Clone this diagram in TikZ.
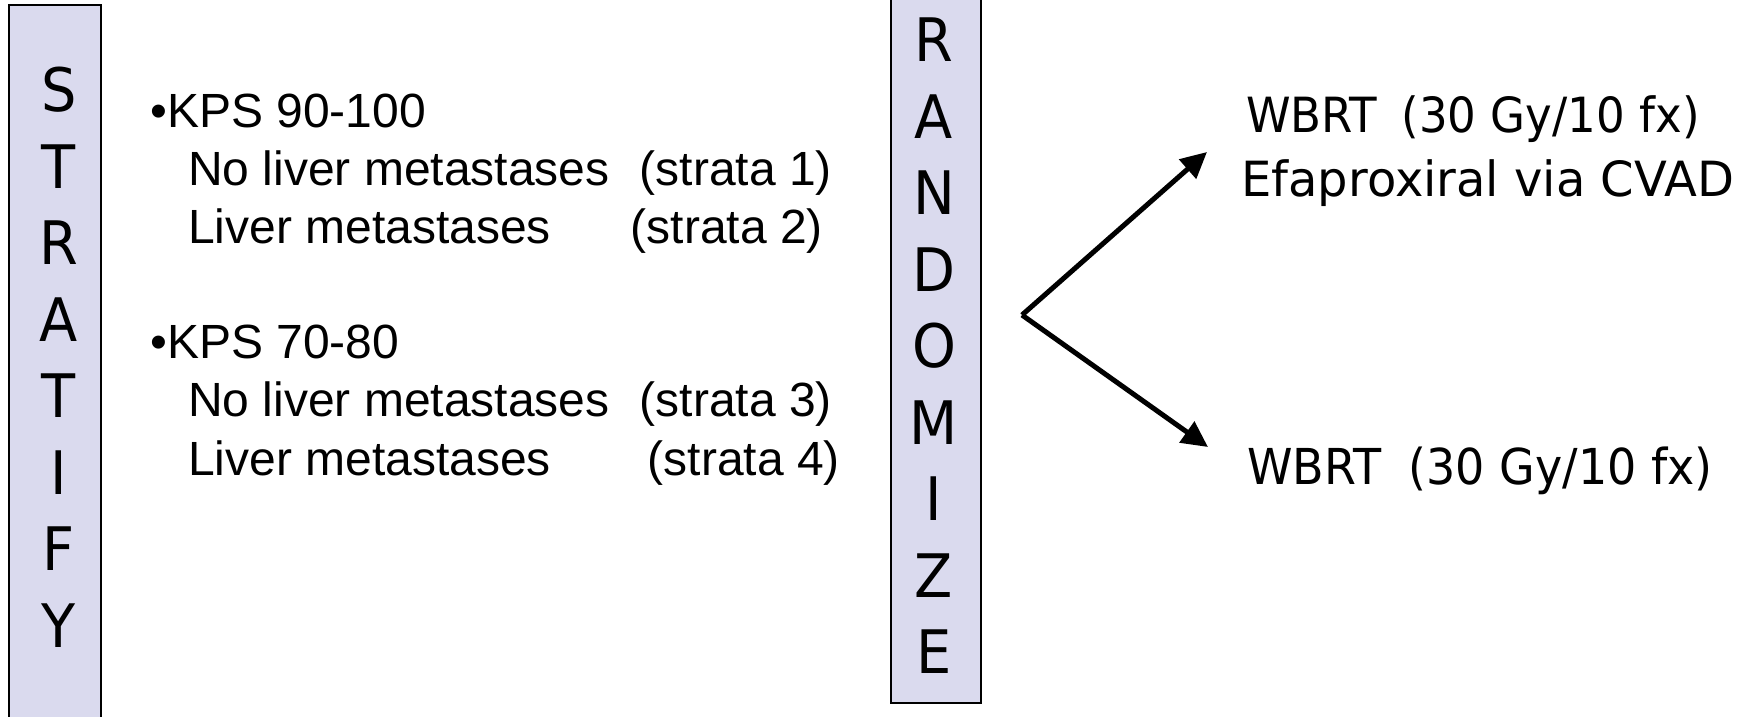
\documentclass[tikz,border=0pt]{standalone}
\usepackage{fontspec}
\setmainfont{Liberation Sans}
\newfontfamily\tah[FakeStretch=0.93]{DejaVu Sans}
\newfontfamily\tahwide[FakeStretch=0.99]{DejaVu Sans}
\usetikzlibrary{arrows.meta}
\definecolor{lav}{RGB}{218,218,238}
\begin{document}
\begin{tikzpicture}[x=1pt,y=-1pt,
  bar/.style={draw=black, line width=2pt, fill=lav, inner sep=0pt},
  boxletters/.style={font=\tah\fontsize{60}{76.5}\selectfont, align=center, inner sep=0pt, anchor=north},
  item/.style={anchor=base west, inner sep=0pt, font=\fontsize{48}{58}\selectfont},
  arm/.style={anchor=base west, inner sep=0pt, font=\tah\fontsize{48.5}{64}\selectfont},
  armwide/.style={arm, font=\tahwide\fontsize{48.5}{64}\selectfont},
  armbig/.style={arm, font=\tah\fontsize{49.5}{64}\selectfont},
  arrowline/.style={line width=5pt, -{Triangle[length=26pt,width=25pt]}}]
\useasboundingbox (0,0) rectangle (1737,717);

% vertical boxes
\node[bar, minimum width=92pt, minimum height=740pt] (strat) at (55,375) {};
\node[bar, minimum width=90pt, minimum height=743pt] (rand) at (936,331.5) {};
\node[boxletters] (stratlbl) at (59,67) {S\\T\\R\\A\\T\\I\\F\\Y};
\node[boxletters] (randlbl) at (934,18) {R\\A\\N\\D\\O\\M\\I\\Z\\E};

% strata
\node[item] (k1) at (150,127) {•KPS 90-100};
\node[item] (s1) at (188,185.5) {\makebox[451.6pt][l]{No liver metastases}(strata 1)};
\node[item] (s2) at (188,243.5) {\makebox[442.6pt][l]{Liver metastases}(strata 2)};
\node[item] (k2) at (150,358) {•KPS 70-80};
\node[item] (s3) at (188,416.5) {\makebox[451.6pt][l]{No liver metastases}(strata 3)};
\node[item] (s4) at (188,475) {\makebox[459.6pt][l]{Liver metastases}(strata 4)};

% arms
\node[arm] (armA1) at (1246,132.7) {WBRT\hspace{10pt} (30 Gy/10 fx)};
\node[armwide] (armA2) at (1241,196.7) {Efaproxiral via CVAD};
\node[armbig] (armB) at (1247,484.3) {WBRT\hspace{13pt} (30 Gy/10 fx)};

% arrows
\coordinate (split) at (1022,315);
\coordinate (tipA) at (1207,152);
\coordinate (tipB) at (1208,447);
\draw[arrowline] (split) -- (tipA);
\draw[arrowline] (split) -- (tipB);
\end{tikzpicture}
\end{document}
